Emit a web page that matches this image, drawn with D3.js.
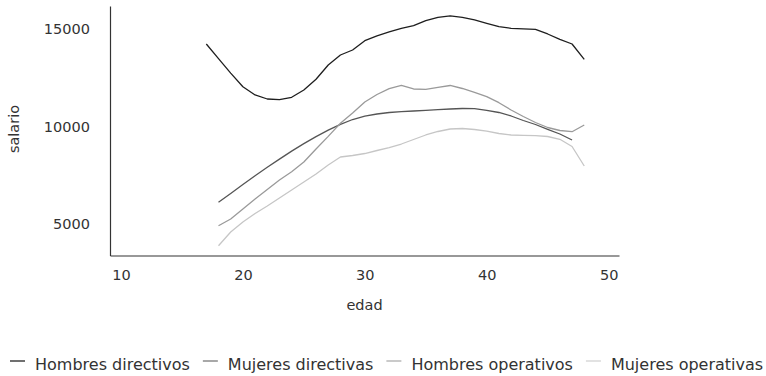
<!DOCTYPE html>
<html>
<head>
<meta charset="utf-8">
<script src="https://cdn.jsdelivr.net/npm/d3@7/dist/d3.min.js"></script>
<style>
  html, body { margin: 0; padding: 0; background: #ffffff; }
  svg { display: block; font-family: "DejaVu Sans", sans-serif; }
</style>
</head>
<body>
<svg id="chart" width="766" height="376"></svg>
<script>
// Ages (x) for each series
const edadesDirectivos = d3.range(17, 49);          // 17..48
const edadesMujDir = d3.range(18, 48);              // 18..47
const edadesOperativos = d3.range(18, 49);          // 18..48

// Average salary by age
const hombresDirectivos = [14217, 13471, 12724, 12033, 11609, 11404, 11368, 11491, 11864, 12412,
  13143, 13655, 13910, 14386, 14627, 14831, 15020, 15153, 15409, 15583, 15650, 15583, 15445,
  15276, 15102, 15020, 14995, 14969, 14729, 14458, 14217, 13435];
const mujeresDirectivas = [6120, 6570, 7031, 7481, 7910, 8330, 8740, 9120, 9480, 9810, 10110,
  10355, 10524, 10637, 10714, 10754, 10790, 10826, 10857, 10893, 10918, 10908, 10826, 10714,
  10535, 10304, 10100, 9854, 9614, 9307];
const hombresOperativos = [4923, 5266, 5777, 6289, 6775, 7260, 7680, 8180, 8850, 9490, 10161,
  10688, 11251, 11634, 11931, 12105, 11916, 11900, 12003, 12095, 11941, 11747, 11522, 11215,
  10841, 10509, 10202, 9946, 9793, 9731, 10074];
const mujeresOperativas = [3900, 4601, 5113, 5547, 5931, 6340, 6749, 7159, 7568, 8028, 8437,
  8514, 8616, 8770, 8913, 9102, 9332, 9563, 9742, 9870, 9895, 9844, 9757, 9639, 9563, 9547,
  9532, 9486, 9343, 8974, 7977];

const seriesNames = ["Hombres directivos", "Mujeres directivas", "Hombres operativos", "Mujeres operativas"];
const lineColors = ["#1e1e1e", "#555555", "#9a9a9a", "#c6c6c6"];
const legendColors = ["#707070", "#a8a8a8", "#cacaca", "#e2e2e2"];

const xTicks = [10, 20, 30, 40, 50];
const yTicks = [5000, 10000, 15000];

const series = [
  { name: seriesNames[0], ages: edadesDirectivos, values: hombresDirectivos },
  { name: seriesNames[1], ages: edadesMujDir, values: mujeresDirectivas },
  { name: seriesNames[2], ages: edadesOperativos, values: hombresOperativos },
  { name: seriesNames[3], ages: edadesOperativos, values: mujeresOperativas }
];

const svg = d3.select("#chart");
const plotLeft = 110, plotRight = 619, plotTop = 6, plotBottom = 255.5;

const x = d3.scaleLinear().domain([9.1, 50.85]).range([plotLeft, plotRight]);
const y = d3.scaleLinear().domain([3400, 16160]).range([plotBottom, plotTop]);

// Axes (domain lines only, no tick marks)
const xAxis = d3.axisBottom(x).tickValues(xTicks).tickSize(0).tickPadding(14).tickSizeOuter(0);
const gx = svg.append("g").attr("transform", `translate(0,${plotBottom})`).call(xAxis);
gx.select(".domain").attr("stroke", "#333").attr("stroke-width", 1.2);
gx.selectAll("text").attr("font-size", 14.5).attr("fill", "#333").attr("font-family", "DejaVu Sans");

const yAxis = d3.axisLeft(y).tickValues(yTicks).tickFormat(d3.format("d")).tickSize(0).tickPadding(20).tickSizeOuter(0);
const gy = svg.append("g").attr("transform", `translate(${plotLeft},0)`).call(yAxis);
gy.select(".domain").attr("stroke", "#333").attr("stroke-width", 1.2);
gy.selectAll("text").attr("font-size", 14.5).attr("fill", "#333").attr("font-family", "DejaVu Sans");

// Axis titles
svg.append("text").attr("x", (plotLeft + plotRight) / 2).attr("y", 310)
  .attr("text-anchor", "middle").attr("font-size", 14.5).attr("fill", "#333").text("edad");
svg.append("text").attr("transform", "translate(19,129) rotate(-90)")
  .attr("text-anchor", "middle").attr("font-size", 14.5).attr("fill", "#333").text("salario");

// Lines
const line = d3.line().x(d => x(d[0])).y(d => y(d[1]));
svg.append("g").selectAll("path").data(series).join("path")
  .attr("d", s => line(s.ages.map((a, i) => [a, s.values[i]])))
  .attr("fill", "none")
  .attr("stroke", (s, i) => lineColors[i])
  .attr("stroke-width", 1.3)
  .attr("stroke-linejoin", "round");

// Legend
const legend = svg.append("g");
let cx = 10;
series.forEach((s, i) => {
  const g = legend.append("g").attr("transform", `translate(${cx},0)`);
  g.append("line").attr("x1", 0).attr("x2", 15).attr("y1", 361).attr("y2", 361)
    .attr("stroke", legendColors[i]).attr("stroke-width", 2);
  const t = g.append("text").attr("x", 25).attr("y", 369.5).attr("font-size", 16)
    .attr("fill", "#333").text(s.name);
  cx += 25 + t.node().getComputedTextLength() + 13;
});
</script>
</body>
</html>
